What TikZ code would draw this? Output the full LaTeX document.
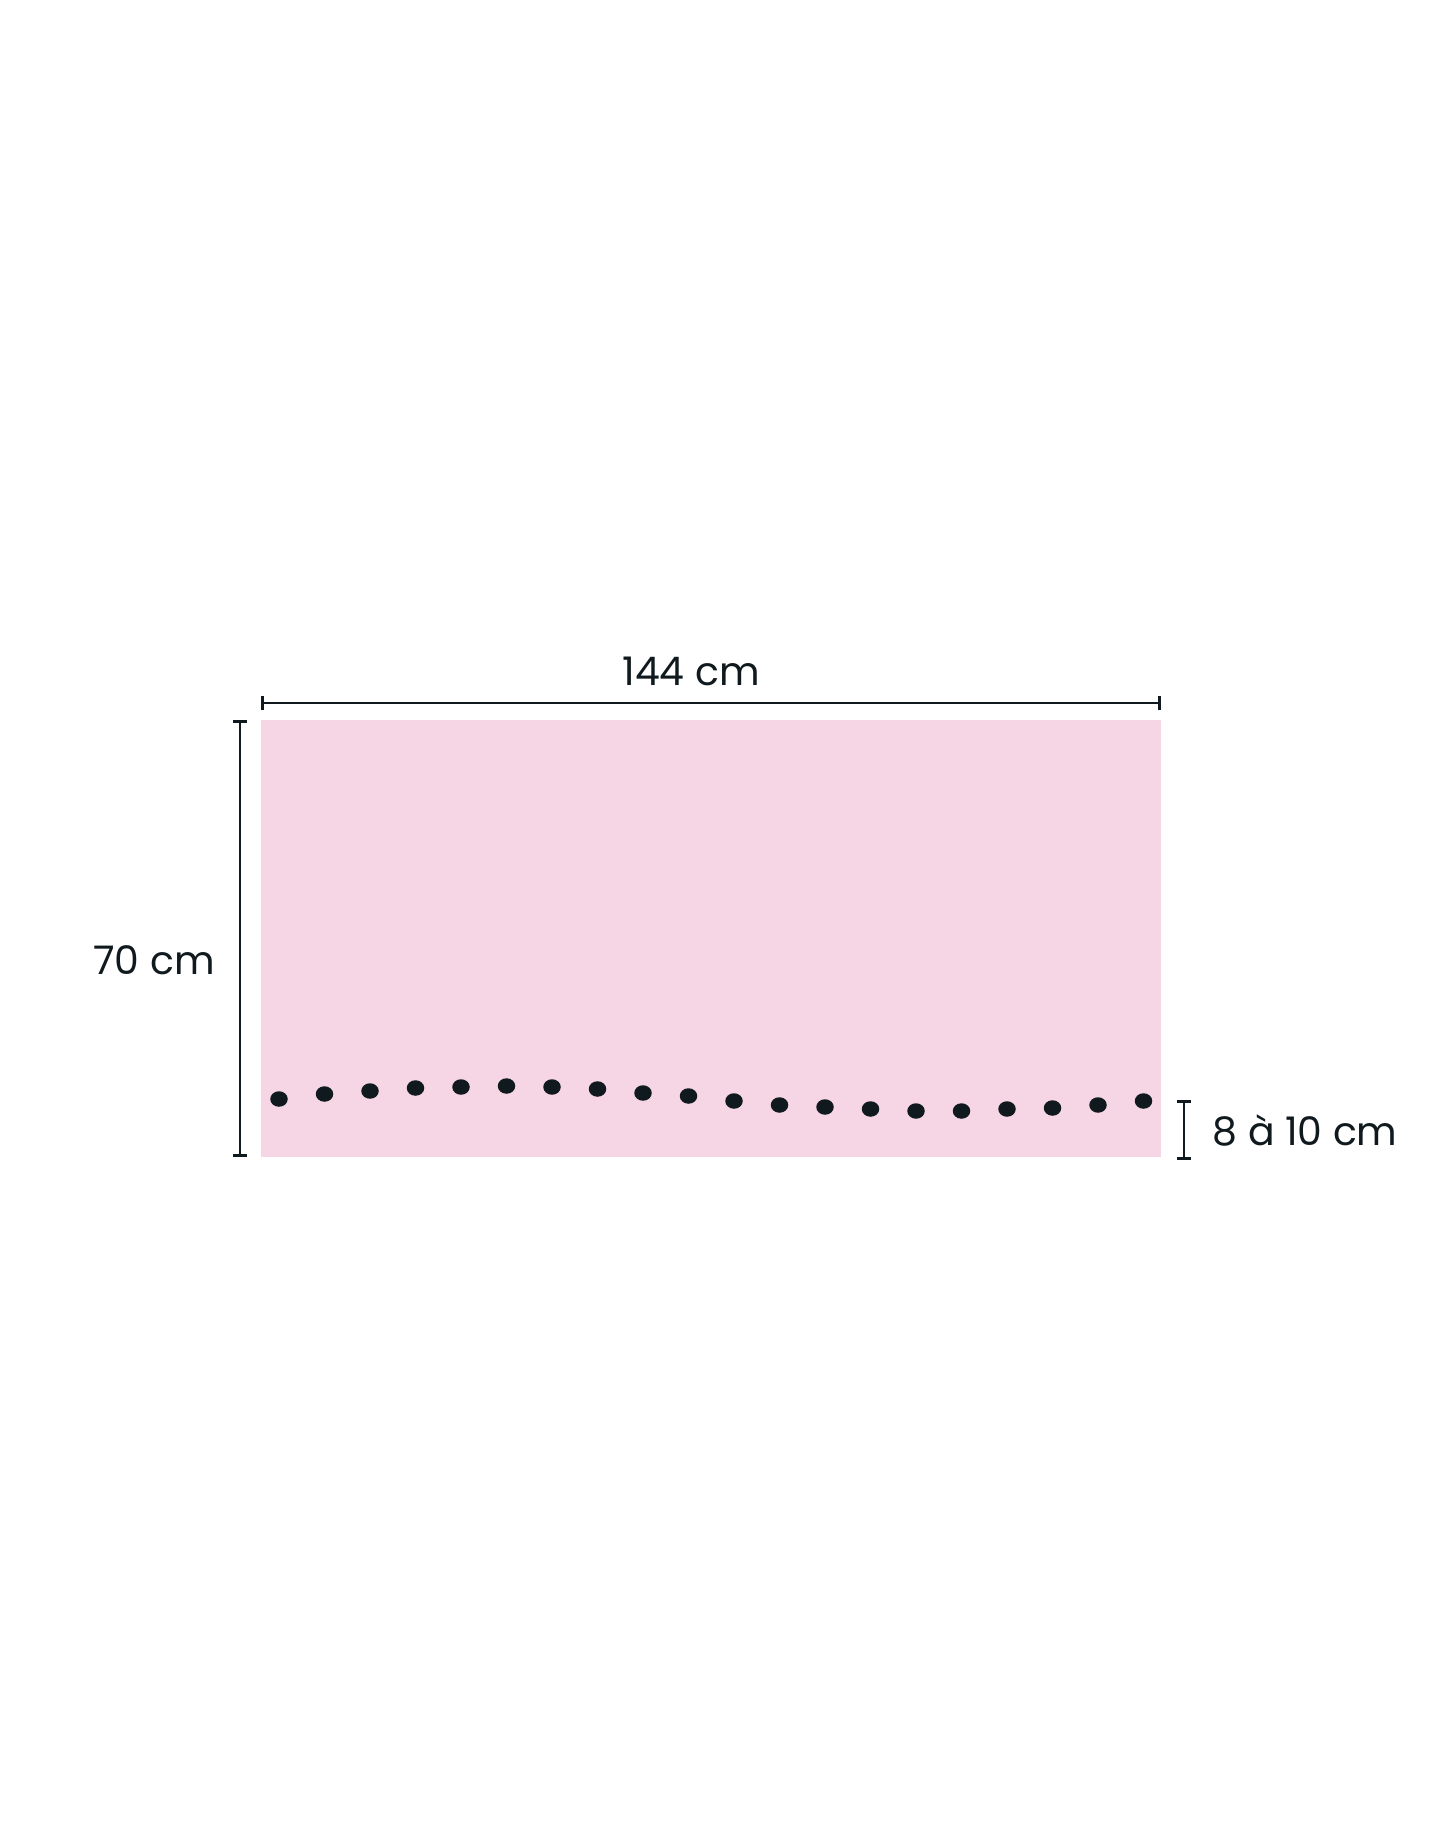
\documentclass[tikz,border=0pt]{standalone}
\usepackage{fontspec}
\setmainfont{Poppins}
\usetikzlibrary{positioning}
\usetikzlibrary{arrows.meta}
\usetikzlibrary{shapes.geometric}
\definecolor{scarfpink}{HTML}{F6D6E5}
\definecolor{inkdark}{HTML}{101A1E}

\begin{document}
\begin{tikzpicture}[x=0.01cm, y=-0.01cm,
    dimline/.style={draw=inkdark, line width=0.75pt, {Bar[width=4pt]}-{Bar[width=4pt]}},
    dimlabel/.style={font=\fontsize{11.2}{13}\selectfont, text=inkdark, inner sep=0pt},
    dot/.style={ellipse, fill=inkdark, inner sep=0pt, minimum width=0.175cm, minimum height=0.155cm}]
  % page size of the reference
  \useasboundingbox (0,0) rectangle (1445,1846);

  % the scarf
  \coordinate (scarfTL) at (261,720);
  \coordinate (scarfBR) at (1161,1157);
  \fill[scarfpink] (scarfTL) rectangle (scarfBR);

  % row of dots near the bottom edge
  \def\doty{{1099,1094,1091,1088,1087,1086,1087,1089,1093,1096,1101,1105,1107,1109,1111,1111,1109,1108,1105,1101}}
  \foreach \i in {1,...,20} {
    \pgfmathsetmacro\yy{\doty[\i - 1]}
    \node[dot] (d\i) at ({279 + 45.5*(\i - 1)},\yy) {};
  }

  % width
  \coordinate (wA) at (261,703);
  \coordinate (wB) at (1161,703);
  \draw[dimline] (wA) -- (wB);
  \node[dimlabel] (wlab) at (691,671) {144 cm};

  % height
  \coordinate (hA) at (240,720);
  \coordinate (hB) at (240,1157);
  \draw[dimline] (hA) -- (hB);
  \node[dimlabel] (hlab) at (154,960) {70 cm};

  % distance of the dots from the edge
  \coordinate (eA) at (1184,1100);
  \coordinate (eB) at (1184,1160);
  \draw[dimline] (eA) -- (eB);
  \node[dimlabel, anchor=west] (elab) at (1212,1130) {8 à 10 cm};
\end{tikzpicture}
\end{document}
